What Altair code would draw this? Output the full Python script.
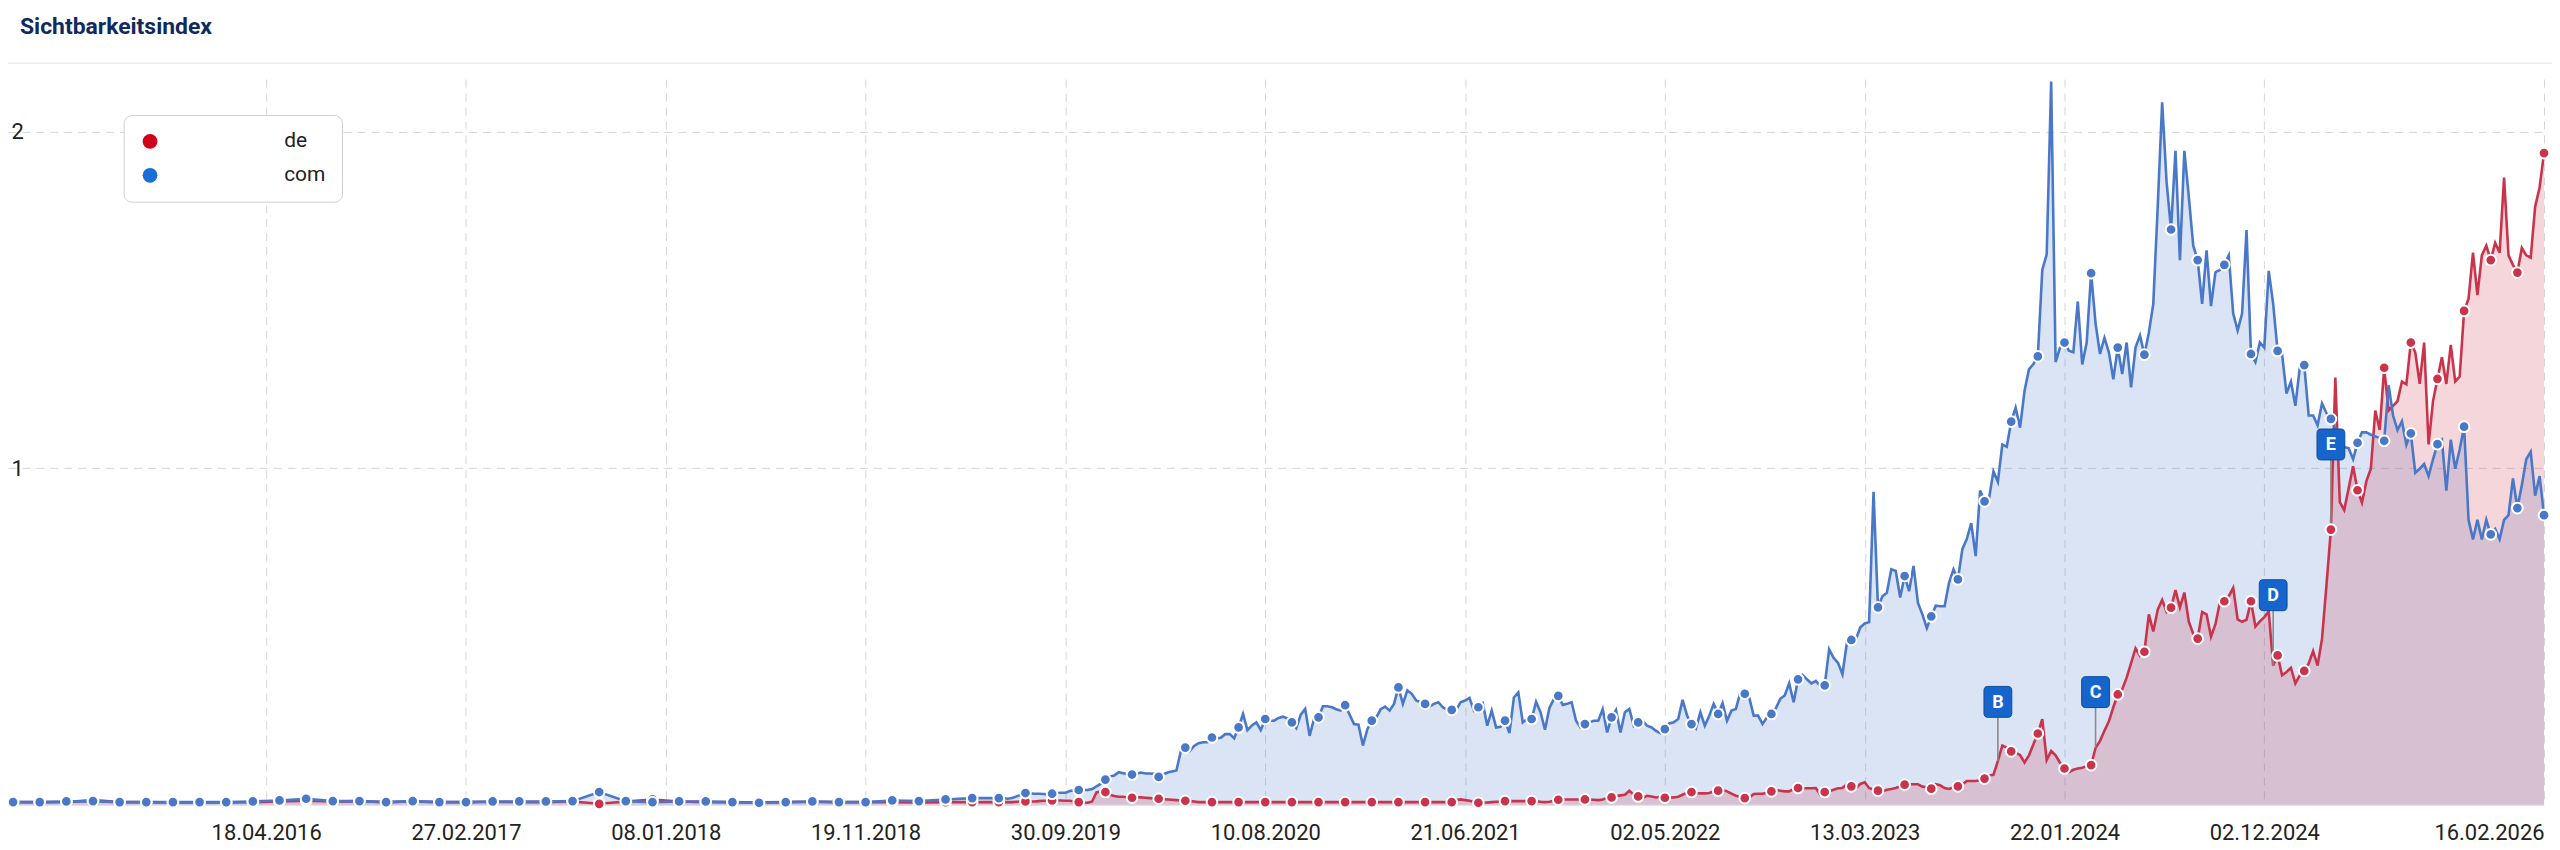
import datetime as dt
import altair as alt
import pandas as pd

# ---------------- data ----------------
START = dt.date(2015, 3, 16)      # first weekly data point (Monday)
SPARSE_STEP = 6                   # early years: readings at every 6th week (the marked points)
WEEKLY_FROM = 222                 # from this week index on: one reading per week
DOT_EVERY = 6                     # a point marker on every 6th week

series_names = ["de", "com"]
legend_colors = ["#d0021b", "#1a6ed8"]
line_colors = {"de": "#c9344c", "com": "#4a78c8"}

tick_dates = ["2016-04-18", "2017-02-27", "2018-01-08", "2018-11-19", "2019-09-30",
              "2020-08-10", "2021-06-21", "2022-05-02", "2023-03-13", "2024-01-22",
              "2024-12-02", "2026-02-16"]
y_ticks = [1, 2]

# com (blue) – week index 0..216, every 6th week
com_sparse = [0.008, 0.008, 0.010, 0.011, 0.008, 0.008, 0.008, 0.008, 0.008, 0.010,
              0.013, 0.018, 0.011, 0.011, 0.008, 0.011, 0.008, 0.008, 0.010, 0.010,
              0.010, 0.011, 0.038, 0.011, 0.008, 0.010, 0.010, 0.008, 0.006, 0.008,
              0.010, 0.008, 0.008, 0.013, 0.011, 0.016, 0.020]
# de (red) – week index 0..216, every 6th week
de_sparse = [0.008, 0.008, 0.008, 0.014, 0.008, 0.008, 0.007, 0.007, 0.007, 0.008,
             0.010, 0.012, 0.010, 0.011, 0.008, 0.010, 0.008, 0.008, 0.009, 0.008,
             0.008, 0.010, 0.003, 0.010, 0.016, 0.010, 0.008, 0.008, 0.007, 0.008,
             0.009, 0.008, 0.008, 0.008, 0.007, 0.008, 0.008]

# com weekly, week 222..299
com_w1 = [0.020, 0.020, 0.018, 0.020, 0.025, 0.030, 0.035, 0.034, 0.033, 0.033,
          0.032, 0.031, 0.033, 0.035, 0.036, 0.036, 0.041, 0.043, 0.044, 0.044,
          0.044, 0.047, 0.055, 0.063, 0.075, 0.084, 0.087, 0.097, 0.094, 0.091,
          0.090, 0.092, 0.096, 0.093, 0.093, 0.092, 0.083, 0.090, 0.096, 0.099,
          0.102, 0.160, 0.170, 0.160, 0.175, 0.183, 0.186, 0.186, 0.200, 0.198,
          0.199, 0.210, 0.210, 0.198, 0.230, 0.270, 0.222, 0.236, 0.245, 0.222,
          0.255, 0.250, 0.250, 0.258, 0.262, 0.256, 0.245, 0.228, 0.268, 0.285,
          0.205, 0.256, 0.260, 0.293, 0.293, 0.290, 0.284, 0.280]
# com weekly, week 300..379
com_w2 = [0.296, 0.268, 0.240, 0.238, 0.176, 0.225, 0.250, 0.260, 0.284, 0.292,
          0.280, 0.300, 0.349, 0.300, 0.340, 0.330, 0.310, 0.305, 0.300, 0.292,
          0.300, 0.305, 0.290, 0.282, 0.282, 0.282, 0.305, 0.310, 0.318, 0.280,
          0.290, 0.302, 0.235, 0.280, 0.230, 0.232, 0.250, 0.213, 0.319, 0.334,
          0.245, 0.255, 0.255, 0.306, 0.275, 0.223, 0.288, 0.314, 0.324, 0.297,
          0.300, 0.305, 0.250, 0.230, 0.240, 0.245, 0.250, 0.250, 0.284, 0.215,
          0.260, 0.282, 0.215, 0.275, 0.285, 0.235, 0.245, 0.250, 0.235, 0.230,
          0.220, 0.213, 0.225, 0.242, 0.245, 0.255, 0.312, 0.265, 0.240, 0.227]
# com weekly, week 380..459
com_w3 = [0.275, 0.235, 0.265, 0.300, 0.270, 0.302, 0.250, 0.280, 0.285, 0.334,
          0.330, 0.319, 0.265, 0.265, 0.240, 0.260, 0.270, 0.287, 0.315, 0.325,
          0.361, 0.305, 0.373, 0.386, 0.373, 0.361, 0.368, 0.353, 0.355, 0.462,
          0.437, 0.422, 0.388, 0.482, 0.490, 0.491, 0.527, 0.539, 0.543, 0.930,
          0.587, 0.620, 0.630, 0.700, 0.695, 0.616, 0.680, 0.635, 0.710, 0.600,
          0.566, 0.525, 0.560, 0.592, 0.590, 0.590, 0.660, 0.700, 0.670, 0.760,
          0.790, 0.837, 0.739, 0.934, 0.902, 0.910, 0.991, 0.960, 1.071, 1.064,
          1.139, 1.180, 1.121, 1.230, 1.294, 1.310, 1.333, 1.590, 1.636, 2.150]
# com weekly, week 460..570
com_w4 = [1.316, 1.359, 1.374, 1.350, 1.345, 1.496, 1.309, 1.374, 1.580, 1.431,
          1.340, 1.388, 1.345, 1.265, 1.359, 1.280, 1.374, 1.241, 1.359, 1.395,
          1.338, 1.403, 1.489, 1.778, 2.088, 1.850, 1.710, 1.944, 1.619, 1.944,
          1.807, 1.662, 1.619, 1.489, 1.648, 1.482, 1.583, 1.590, 1.605, 1.633,
          1.460, 1.410, 1.460, 1.708, 1.340, 1.316, 1.374, 1.359, 1.587, 1.489,
          1.349, 1.340, 1.222, 1.258, 1.186, 1.300, 1.307, 1.157, 1.157, 1.128,
          1.193, 1.164, 1.147, 1.120, 1.090, 1.063, 1.060, 1.027, 1.076, 1.107,
          1.107, 1.100, 1.095, 1.090, 1.082, 1.247, 1.157, 1.114, 1.140, 1.070,
          1.104, 0.987, 0.999, 1.013, 0.977, 1.027, 1.072, 1.085, 0.934, 1.085,
          0.999, 1.056, 1.124, 0.847, 0.789, 0.847, 0.789, 0.847, 0.804, 0.820,
          0.789, 0.847, 0.861, 0.970, 0.882, 0.950, 1.027, 1.049, 0.919, 0.977,
          0.861]

# de weekly, week 222..299
de_w1 = [0.008, 0.008, 0.008, 0.008, 0.009, 0.010, 0.010, 0.010, 0.010, 0.011,
         0.012, 0.012, 0.013, 0.013, 0.013, 0.012, 0.012, 0.010, 0.008, 0.007,
         0.006, 0.010, 0.037, 0.040, 0.038, 0.030, 0.026, 0.024, 0.024, 0.022,
         0.021, 0.022, 0.022, 0.021, 0.020, 0.019, 0.018, 0.017, 0.016, 0.015,
         0.014, 0.013, 0.012, 0.011, 0.010, 0.008, 0.008, 0.008, 0.008, 0.008,
         0.008, 0.008, 0.008, 0.008, 0.008, 0.008, 0.008, 0.008, 0.008, 0.008,
         0.008, 0.008, 0.008, 0.008, 0.008, 0.008, 0.008, 0.008, 0.008, 0.008,
         0.008, 0.008, 0.008, 0.008, 0.008, 0.008, 0.008, 0.008]
# de weekly, week 300..379
de_w2 = [0.008, 0.008, 0.008, 0.008, 0.008, 0.008, 0.008, 0.008, 0.008, 0.008,
         0.008, 0.008, 0.008, 0.008, 0.008, 0.008, 0.008, 0.008, 0.008, 0.008,
         0.008, 0.008, 0.008, 0.008, 0.008, 0.014, 0.016, 0.014, 0.012, 0.009,
         0.006, 0.006, 0.007, 0.008, 0.009, 0.010, 0.011, 0.011, 0.011, 0.011,
         0.011, 0.011, 0.011, 0.011, 0.009, 0.008, 0.009, 0.012, 0.015, 0.016,
         0.016, 0.016, 0.016, 0.016, 0.016, 0.016, 0.015, 0.014, 0.016, 0.020,
         0.022, 0.026, 0.028, 0.030, 0.042, 0.030, 0.025, 0.021, 0.027, 0.025,
         0.022, 0.024, 0.021, 0.021, 0.022, 0.024, 0.030, 0.036, 0.038, 0.035]
# de weekly, week 380..459
de_w3 = [0.034, 0.034, 0.035, 0.040, 0.042, 0.044, 0.040, 0.033, 0.027, 0.023,
         0.020, 0.021, 0.032, 0.033, 0.033, 0.036, 0.040, 0.044, 0.042, 0.040,
         0.040, 0.047, 0.050, 0.049, 0.049, 0.049, 0.050, 0.030, 0.038, 0.040,
         0.045, 0.049, 0.050, 0.062, 0.055, 0.049, 0.062, 0.067, 0.050, 0.045,
         0.042, 0.040, 0.045, 0.047, 0.050, 0.055, 0.060, 0.061, 0.061, 0.061,
         0.054, 0.052, 0.048, 0.061, 0.058, 0.050, 0.047, 0.052, 0.055, 0.061,
         0.071, 0.071, 0.071, 0.073, 0.078, 0.087, 0.089, 0.130, 0.176, 0.170,
         0.159, 0.155, 0.148, 0.126, 0.147, 0.180, 0.212, 0.255, 0.133, 0.160]
# de weekly, week 460..570
de_w4 = [0.147, 0.125, 0.108, 0.097, 0.104, 0.108, 0.110, 0.115, 0.118, 0.169,
         0.190, 0.220, 0.248, 0.290, 0.328, 0.343, 0.378, 0.421, 0.465, 0.443,
         0.455, 0.566, 0.515, 0.580, 0.609, 0.573, 0.586, 0.638, 0.587, 0.631,
         0.544, 0.508, 0.494, 0.573, 0.566, 0.500, 0.537, 0.602, 0.605, 0.620,
         0.645, 0.551, 0.544, 0.550, 0.605, 0.530, 0.545, 0.558, 0.575, 0.414,
         0.444, 0.385, 0.395, 0.407, 0.361, 0.385, 0.398, 0.420, 0.457, 0.414,
         0.493, 0.652, 0.818, 1.270, 0.900, 0.876, 0.941, 1.006, 0.935, 0.898,
         0.962, 0.999, 1.172, 1.114, 1.299, 1.172, 1.186, 1.200, 1.258, 1.250,
         1.374, 1.345, 1.251, 1.374, 1.071, 1.200, 1.266, 1.330, 1.251, 1.367,
         1.258, 1.273, 1.468, 1.504, 1.641, 1.515, 1.633, 1.662, 1.619, 1.670,
         1.641, 1.864, 1.633, 1.605, 1.582, 1.655, 1.633, 1.626, 1.778, 1.835,
         1.937]

# event markers: letter, week index, height of the flag (index units)
event_letters = ["B", "C", "D", "E"]
event_weeks = [447, 469, 509, 522]
event_flag_values = [0.306, 0.335, 0.623, 1.071]

# ---------------- table ----------------
def week_date(i):
    return (START + dt.timedelta(weeks=i)).isoformat()


def build(name, sparse, weekly):
    rows = []
    for k, v in enumerate(sparse):
        rows.append({"week": k * SPARSE_STEP, "value": v})
    for k, v in enumerate(weekly):
        rows.append({"week": WEEKLY_FROM + k, "value": v})
    for r in rows:
        r["date"] = week_date(r["week"])
        r["series"] = name
        r["dot"] = r["week"] % DOT_EVERY == 0
    return rows


de_rows = build("de", de_sparse, de_w1 + de_w2 + de_w3 + de_w4)
com_rows = build("com", com_sparse, com_w1 + com_w2 + com_w3 + com_w4)
df = pd.DataFrame(de_rows + com_rows)

de_by_week = {r["week"]: r["value"] for r in de_rows}
events = pd.DataFrame({
    "letter": event_letters,
    "date": [week_date(w) for w in event_weeks],
    "top": event_flag_values,
    "end": [de_by_week[w] for w in event_weeks],
})


def utc_dt(s):
    y, m, d = (int(p) for p in s.split("-"))
    return alt.DateTime(year=y, month=m, date=d, utc=True)


# ---------------- scales / axes ----------------
FONT = "Roboto"
x_scale = alt.Scale(type="utc", domain=[utc_dt("2015-03-08"), utc_dt("2026-02-16")])
y_scale = alt.Scale(domain=[0, 2.157], nice=False, zero=True)

x_axis = alt.Axis(values=[utc_dt(s) for s in tick_dates], format="%d.%m.%Y",
                  grid=True, gridColor="#d6d6d6", gridDash=[8, 6], gridWidth=1,
                  domain=True, domainColor="#dedede", ticks=False, tickSize=0,
                  labelPadding=18, labelFontSize=22, labelFont=FONT, labelColor="#222222",
                  labelFlush=True, labelOverlap=False, title=None)
y_axis = alt.Axis(values=y_ticks, grid=True, gridColor="#d6d6d6", gridDash=[8, 6], gridWidth=1,
                  domain=False, ticks=False, tickSize=0, labelAlign="left", labelPadding=-3,
                  labelBaseline="middle", labelFontSize=22, labelFont=FONT,
                  labelColor="#222222", title=None)

X = alt.X("date:T", scale=x_scale, axis=x_axis, title=None)
Y = alt.Y("value:Q", scale=y_scale, axis=y_axis, stack=None, title=None)
Y_top = alt.Y("top:Q", scale=y_scale, axis=y_axis, title=None)

base = alt.Chart(df)
layers = []

# header
layers.append(alt.Chart(pd.DataFrame({"t": ["Sichtbarkeitsindex"]})).mark_text(
    align="left", baseline="middle", font=FONT, fontSize=23, fontWeight="bold", color="#0f2a5c"
).encode(x=alt.value(12), y=alt.value(-52), text="t:N"))
layers.append(alt.Chart(pd.DataFrame({"a": [0]})).mark_rule(color="#e6e6e6", strokeWidth=1).encode(
    x=alt.value(-8), x2=alt.value(2560), y=alt.value(-16)))

for name in ["com", "de"]:
    layers.append(base.transform_filter(alt.datum.series == name).mark_area(
        color=line_colors[name], opacity=0.2).encode(x=X, y=Y))
for name in ["de", "com"]:
    layers.append(base.transform_filter(alt.datum.series == name).mark_line(
        color=line_colors[name], strokeWidth=2.6).encode(x=X, y=Y))

# event connectors
layers.append(alt.Chart(events).mark_rule(color="#8a8a8a", strokeWidth=1.6).encode(
    x=X, y=Y_top, y2="end:Q"))

for name in ["de", "com"]:
    layers.append(base.transform_filter((alt.datum.series == name) & alt.datum.dot).mark_point(
        filled=True, fill=line_colors[name], stroke="white", strokeWidth=2, size=115, opacity=1
    ).encode(x=X, y=Y))

flag_path = ("M-0.9,-0.72 C-0.9,-0.9 -0.82,-1 -0.66,-1 L0.66,-1 C0.82,-1 0.9,-0.9 0.9,-0.72 "
             "L0.9,0.72 C0.9,0.9 0.82,1 0.66,1 L-0.66,1 C-0.82,1 -0.9,0.9 -0.9,0.72 Z")
layers.append(alt.Chart(events).mark_point(
    shape=flag_path, size=961, filled=True, fill="#1565cc", stroke="#0d4c9c", strokeWidth=1, opacity=1
).encode(x=X, y=Y_top))
layers.append(alt.Chart(events).mark_text(
    color="white", font=FONT, fontSize=18, fontWeight="bold", baseline="middle", align="center", dy=1
).encode(x=X, y=Y_top, text="letter:N"))

# legend carrier (marks hidden)
nbsp = "\u00a0"
layers.append(base.transform_filter(alt.datum.dot).mark_point(filled=True, opacity=0).encode(
    x=X, y=Y,
    color=alt.Color("series:N", scale=alt.Scale(domain=series_names, range=legend_colors),
                    legend=alt.Legend(orient="none", legendX=116, legendY=36, title=None,
                                      direction="vertical", padding=16, rowPadding=12,
                                      symbolType="circle", symbolSize=220, symbolStrokeWidth=0,
                                      symbolOpacity=1, labelFontSize=21, labelFont=FONT,
                                      labelColor="#222222", labelOffset=124,
                                      labelExpr="datum.label + '" + nbsp * 6 + "'",
                                      fillColor="white", strokeColor="#cfcfcf", cornerRadius=8))))

chart = alt.layer(*layers).properties(
    width=2544, height=728,
    autosize=alt.AutoSizeParams(type="none"),
    padding={"left": 0, "top": 70, "right": 8, "bottom": 40},
).configure(font=FONT).configure_view(strokeWidth=0, stroke="transparent")

chart.save("out.html", embed_options={"renderer": "svg", "actions": False})
